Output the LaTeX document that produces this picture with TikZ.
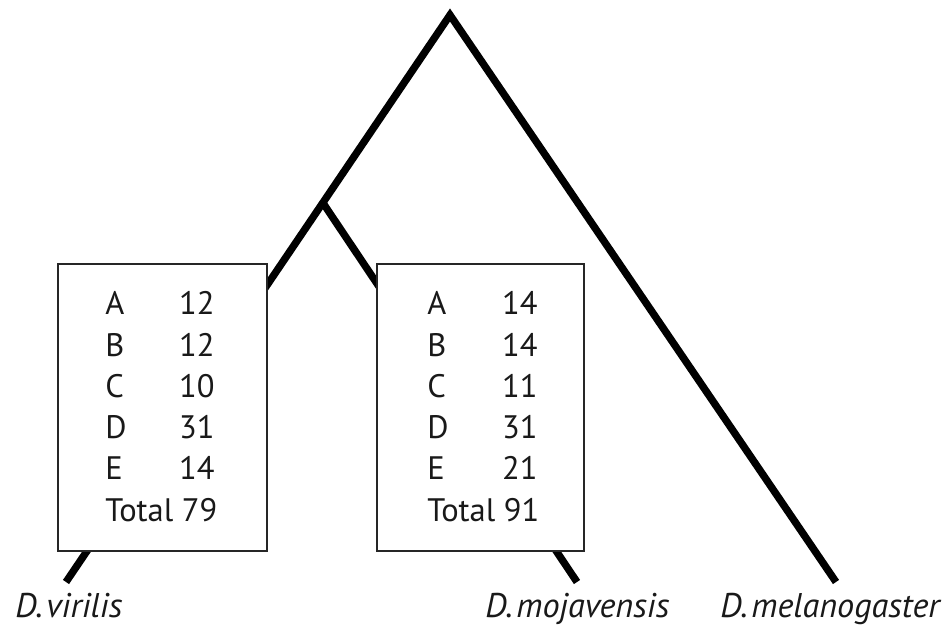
\documentclass[tikz,border=0pt]{standalone}
\usepackage{fontspec}
\setmainfont{PT Sans}
\begin{document}
\begin{tikzpicture}[x=0.02cm,y=-0.02cm,
  branch/.style={line width=4.2pt,line cap=butt,black},
  countbox/.style={draw=black!85,line width=1.1pt,fill=white,rectangle,
    minimum width=209*0.02cm,minimum height=287*0.02cm,inner sep=0pt},
  cell/.style={inner sep=0pt,font=\fontsize{18.5}{20}\selectfont,text=black!90},
  taxon/.style={inner sep=0pt,anchor=base west,font=\fontsize{19.5}{21}\selectfont\itshape,text=black!90}]
  \useasboundingbox (0,0) rectangle (950,628);

  % tree nodes
  \coordinate (root) at (450,15);
  \coordinate (inner) at (323,203);
  \coordinate (vir) at (66,582);
  \coordinate (moj) at (577,582);
  \coordinate (mel) at (836,582);

  % branches
  \draw[branch] (vir) -- (root) -- (mel);
  \draw[branch] (inner) -- (moj);

  % count boxes on the terminal branches
  \node[countbox] (boxvir) at (162.5,407.5) {};
  \node[countbox,minimum width=207*0.02cm] (boxmoj) at (480.5,407.5) {};

  % table rows
  \foreach \lab/\a/\b [count=\i] in {A/12/14,B/12/14,C/10/11,D/31/31,E/14/21} {
    \pgfmathsetmacro{\yy}{315+41.2*(\i-1)}
    \node[cell,anchor=base west] (lv\i) at (105,\yy) {\lab};
    \node[cell,anchor=base east] (nv\i) at (215,\yy) {\a};
    \node[cell,anchor=base west] (lm\i) at (427,\yy) {\lab};
    \node[cell,anchor=base east] (nm\i) at (538,\yy) {\b};
  }
  \node[cell,anchor=base west] (totv) at (105,521) {Total 79};
  \node[cell,anchor=base west] (totm) at (427,521) {Total 91};

  % taxon labels
  \node[taxon] (lvir) at (15,617) {D.\kern2pt virilis};
  \node[taxon] (lmoj) at (485,617) {D.\kern2pt mojavensis};
  \node[taxon] (lmel) at (720,617) {D.\kern2pt melanogaster};
\end{tikzpicture}
\end{document}
